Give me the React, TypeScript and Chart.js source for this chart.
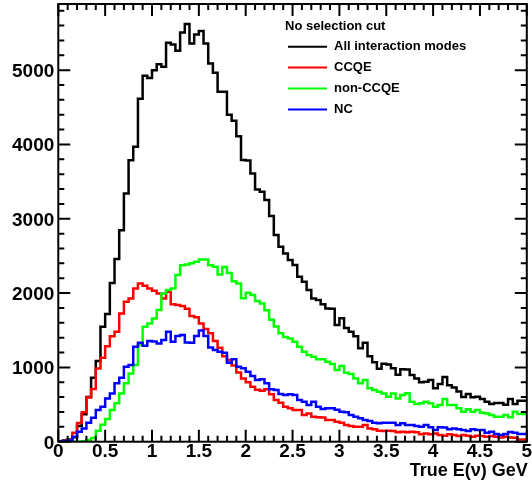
import React, { useEffect, useRef } from "react";
import { Chart, registerables } from "chart.js";

Chart.register(...registerables);

// Histogram binning: 100 bins of 0.05 GeV on [0, 5]
const BIN_WIDTH = 0.05;
const X_MIN = 0;
const X_MAX = 5;
const Y_MIN = 0;
const Y_MAX = 5890;

// Event counts per bin
const allModes = [
  0, 5, 15, 30, 60, 210, 370, 600, 860, 1085,
  1547, 1720, 2135, 2458, 2847, 3341, 3789, 3968, 4615, 4925,
  4895, 5000, 5080, 5045, 5370, 5345, 5260, 5505, 5620, 5360,
  5480, 5525, 5360, 5090, 4965, 4710, 4710, 4400, 4320, 4110,
  3790, 3785, 3610, 3394, 3363, 3251, 3036, 2780, 2623, 2534,
  2444, 2377, 2220, 2153, 2040, 1928, 1906, 1848, 1794, 1790,
  1570, 1660, 1530, 1480, 1420, 1256, 1332, 1150, 1070, 980,
  1050, 1040, 990, 900, 975, 970, 897, 852, 800, 807,
  830, 718, 776, 870, 760, 731, 677, 600, 641, 597,
  606, 574, 538, 507, 520, 520, 498, 574, 507, 552,
];

const ccqe = [
  0, 3, 8, 23, 120, 250, 395, 595, 710, 985,
  1130, 1285, 1420, 1480, 1726, 1883, 1928, 2063, 2130, 2100,
  2063, 2031, 1995, 1928, 2018, 1850, 1840, 1825, 1790, 1690,
  1675, 1592, 1515, 1460, 1355, 1265, 1150, 1100, 1025, 930,
  850, 800, 740, 700, 687, 705, 640, 561, 525, 471,
  449, 426, 426, 359, 381, 336, 328, 325, 292, 292,
  269, 256, 224, 211, 202, 202, 224, 179, 166, 148,
  144, 148, 144, 126, 135, 126, 135, 126, 99, 112,
  99, 112, 90, 81, 99, 90, 76, 90, 81, 67,
  81, 76, 67, 76, 67, 58, 67, 58, 54, 31,
];

const nonCcqe = [
  0, 0, 0, 0, 0, 0, 5, 22, 49, 148,
  229, 305, 426, 516, 650, 785, 919, 1031, 1300, 1547,
  1592, 1659, 1771, 1995, 2040, 2063, 2242, 2376, 2385, 2400,
  2421, 2453, 2453, 2376, 2354, 2250, 2350, 2270, 2160, 2130,
  1930, 2004, 1975, 1895, 1860, 1770, 1640, 1550, 1460, 1410,
  1390, 1346, 1278, 1211, 1166, 1144, 1108, 1108, 1076, 1045,
  964, 1018, 928, 910, 852, 785, 830, 718, 696, 673,
  650, 606, 650, 583, 628, 651, 538, 507, 516, 538,
  516, 471, 493, 574, 493, 493, 449, 404, 435, 404,
  426, 390, 381, 359, 336, 336, 359, 328, 404, 372,
];

const nc = [
  0, 3, 8, 15, 67, 134, 179, 256, 323, 426,
  471, 583, 650, 785, 861, 1009, 1031, 1278, 1332, 1290,
  1354, 1350, 1323, 1368, 1480, 1345, 1421, 1435, 1335, 1330,
  1421, 1495, 1421, 1269, 1233, 1211, 1197, 1063, 1108, 1009,
  990, 942, 884, 830, 839, 785, 705, 696, 642, 628,
  640, 630, 561, 538, 493, 538, 471, 440, 449, 449,
  430, 404, 395, 359, 336, 314, 292, 278, 256, 247,
  256, 256, 256, 224, 247, 224, 224, 211, 202, 224,
  193, 157, 193, 190, 166, 176, 166, 157, 144, 166,
  157, 157, 121, 135, 103, 90, 103, 130, 121, 103,
];

const legendHeader = "No selection cut";
const seriesLabels = ["All interaction modes", "CCQE", "non-CCQE", "NC"];
const seriesColors = ["#000000", "#ff0000", "#00ff00", "#0000ff"];
const seriesValues = [allModes, ccqe, nonCcqe, nc];

const xTickLabels = ["0", "0.5", "1", "1.5", "2", "2.5", "3", "3.5", "4", "4.5", "5"];
const yTickLabels = ["0", "1000", "2000", "3000", "4000", "5000"];
const xAxisTitle = "True E(\u03bd) GeV";

const X_MINOR_STEP = 0.1;
const Y_MINOR_STEP = 200;

const FONT = "'Liberation Sans', Arial, Helvetica, sans-serif";

// Convert per-bin counts into step points at the bin low edges,
// plus a closing point at the upper end of the axis.
function toSteps(values: number[]) {
  const pts = values.map((v, i) => ({ x: X_MIN + i * BIN_WIDTH, y: v }));
  pts.push({ x: X_MAX, y: values[values.length - 1] });
  return pts;
}

// Frame, inward ticks on all four sides, tick labels, axis title and legend
const rootFramePlugin = {
  id: "rootFrame",
  afterDraw(chart: any) {
    const ctx: CanvasRenderingContext2D = chart.ctx;
    const { left, right, top, bottom } = chart.chartArea;
    const xs = chart.scales.x;
    const ys = chart.scales.y;
    ctx.save();

    ctx.strokeStyle = "#000";
    ctx.lineWidth = 2;
    ctx.strokeRect(left, top, right - left, bottom - top);

    // x ticks
    const nX = Math.round((X_MAX - X_MIN) / X_MINOR_STEP);
    ctx.beginPath();
    for (let k = 0; k <= nX; k++) {
      const v = X_MIN + k * X_MINOR_STEP;
      const px = xs.getPixelForValue(v);
      const len = k % 5 === 0 ? 12 : 6;
      ctx.moveTo(px, bottom);
      ctx.lineTo(px, bottom - len);
      ctx.moveTo(px, top);
      ctx.lineTo(px, top + len);
    }
    // y ticks
    const nY = Math.floor((Y_MAX - Y_MIN) / Y_MINOR_STEP);
    for (let k = 0; k <= nY; k++) {
      const v = Y_MIN + k * Y_MINOR_STEP;
      const py = ys.getPixelForValue(v);
      const len = k % 5 === 0 ? 12 : 6;
      ctx.moveTo(left, py);
      ctx.lineTo(left + len, py);
      ctx.moveTo(right, py);
      ctx.lineTo(right - len, py);
    }
    ctx.lineWidth = 2;
    ctx.stroke();

    // tick labels
    ctx.fillStyle = "#000";
    ctx.font = `bold 19px ${FONT}`;
    ctx.textAlign = "center";
    ctx.textBaseline = "alphabetic";
    xTickLabels.forEach((lab) => {
      const px = xs.getPixelForValue(parseFloat(lab));
      ctx.fillText(lab, px, bottom + 15.6);
    });
    ctx.textAlign = "right";
    yTickLabels.forEach((lab) => {
      const py = ys.getPixelForValue(parseFloat(lab));
      ctx.fillText(lab, left - 4, py + 6.8);
    });

    // axis title
    ctx.font = `bold 18px ${FONT}`;
    ctx.textAlign = "right";
    ctx.fillText(xAxisTitle, right + 1, bottom + 34);

    // legend
    const legX = 285;
    ctx.font = `bold 13px ${FONT}`;
    ctx.textAlign = "left";
    ctx.textBaseline = "middle";
    ctx.fillText(legendHeader, legX, 26);
    seriesLabels.forEach((lab, i) => {
      const y = 46.7 + i * 20.9;
      ctx.strokeStyle = seriesColors[i];
      ctx.lineWidth = 2;
      ctx.beginPath();
      ctx.moveTo(legX + 3, y);
      ctx.lineTo(legX + 42, y);
      ctx.stroke();
      ctx.fillStyle = "#000";
      ctx.fillText(lab, legX + 49, y);
    });
    ctx.restore();
  },
};

export default function App() {
  const canvasRef = useRef<HTMLCanvasElement | null>(null);

  useEffect(() => {
    if (!canvasRef.current) return;
    const chart = new Chart(canvasRef.current, {
      type: "line",
      data: {
        datasets: seriesValues.map((vals, i) => ({
          label: seriesLabels[i],
          data: toSteps(vals),
          borderColor: seriesColors[i],
          backgroundColor: seriesColors[i],
          borderWidth: 2.5,
          stepped: "after" as const,
          pointRadius: 0,
          fill: false,
          order: seriesValues.length - i,
        })),
      },
      options: {
        animation: false,
        responsive: false,
        maintainAspectRatio: false,
        events: [],
        layout: { padding: { left: 58.3, top: 4, right: 5.2, bottom: 44.3 } },
        plugins: {
          legend: { display: false },
          tooltip: { enabled: false },
          title: { display: false },
        },
        scales: {
          x: { type: "linear", min: X_MIN, max: X_MAX, display: false },
          y: { type: "linear", min: Y_MIN, max: Y_MAX, display: false },
        },
      },
      plugins: [rootFramePlugin],
    });
    return () => chart.destroy();
  }, []);

  return (
    <div style={{ position: "fixed", left: 0, top: 0, width: 532, height: 486, background: "#fff" }}>
      <canvas ref={canvasRef} width={532} height={486} style={{ display: "block" }} />
    </div>
  );
}
